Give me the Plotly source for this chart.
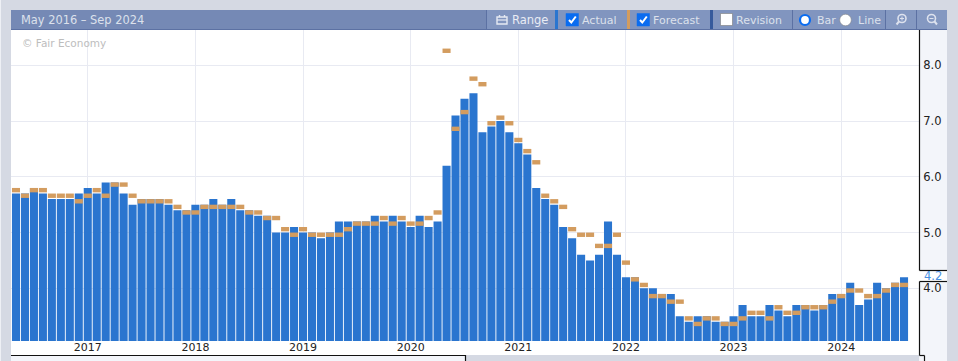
import pandas as pd
import plotly.graph_objects as go

W, H = 958, 361
FONT = "DejaVu Sans"

months = [p.strftime("%b %Y") for p in pd.period_range("2016-05", periods=100, freq="M")]
actual = [5.7,5.7,5.8,5.7,5.6,5.6,5.6,5.7,5.8,5.7,
          5.9,5.9,5.7,5.5,5.6,5.6,5.6,5.5,5.4,5.4,
          5.5,5.5,5.6,5.5,5.6,5.4,5.4,5.3,5.3,5.0,
          5.0,5.1,5.0,5.0,4.9,5.0,5.2,5.2,5.2,5.2,
          5.3,5.2,5.3,5.2,5.1,5.3,5.1,5.2,6.2,7.1,
          7.4,7.5,6.8,6.9,7.0,6.8,6.6,6.4,5.8,5.6,
          5.5,5.1,4.9,4.6,4.5,4.6,5.2,4.6,4.2,4.2,
          4.0,4.0,3.9,3.9,3.5,3.4,3.5,3.5,3.4,3.4,
          3.5,3.7,3.5,3.5,3.7,3.6,3.5,3.7,3.7,3.6,
          3.7,3.9,3.9,4.1,3.7,3.8,4.1,4.0,4.1,4.2]
forecast = [5.8,5.7,5.8,5.8,5.7,5.7,5.7,5.6,5.7,5.8,
            5.7,5.9,5.9,5.7,5.6,5.6,5.6,5.6,5.5,5.4,
            5.4,5.5,5.5,5.5,5.5,5.5,5.4,5.4,5.3,5.3,
            5.1,5.0,5.1,5.0,5.0,5.0,5.0,5.1,5.2,5.2,
            5.2,5.3,5.2,5.3,5.2,5.2,5.3,5.4,8.3,6.9,
            7.2,7.8,7.7,7.0,7.1,7.0,6.7,6.5,6.3,5.7,
            5.6,5.5,5.1,5.0,5.0,4.8,4.8,5.0,4.5,4.2,
            4.1,3.9,3.9,3.8,3.8,3.5,3.4,3.5,3.5,3.4,
            3.4,3.5,3.6,3.6,3.5,3.7,3.6,3.6,3.7,3.7,
            3.7,3.8,3.9,4.0,4.0,3.9,3.9,4.0,4.1,4.1]
year_ticks = ["Jan 2017","Jan 2018","Jan 2019","Jan 2020","Jan 2021","Jan 2022","Jan 2023","Jan 2024"]
year_labels = ["2017","2018","2019","2020","2021","2022","2023","2024"]
y_ticks = [4, 5, 6, 7, 8]
y_labels = ["4.0", "5.0", "6.0", "7.0", "8.0"]
latest_label = "4.2"

BAR_BLUE = "#2A75CF"
ORANGE = "#D39C5F"
PAGE = "#D5D9E3"
PANEL = "#F3F5FA"
HEAD = "#7589B5"
HEAD_LIGHT = "#8195BF"
HEAD_EDGE = "#5C71A3"
HEAD_TEXT = "#DCE1EC"
GRID = "#E8EAF2"

THICK = 4.4 / 55.75  # forecast dash height in axis units

def px(x): return x / W
def py(y): return 1 - y / H

shapes, notes = [], []

def rect(x0, y0, x1, y1, fill, layer="above", line=None, lw=0):
    shapes.append(dict(type="rect", xref="paper", yref="paper", layer=layer,
                       x0=px(x0), x1=px(x1), y0=py(y0), y1=py(y1), fillcolor=fill,
                       line=dict(width=lw, color=line or fill)))

def seg(x0, y0, x1, y1, color, lw=1, layer="above"):
    shapes.append(dict(type="line", xref="paper", yref="paper", layer=layer,
                       x0=px(x0), x1=px(x1), y0=py(y0), y1=py(y1),
                       line=dict(width=lw, color=color)))

def circ(cx, cy, r, fill, line, lw=1):
    shapes.append(dict(type="circle", xref="paper", yref="paper", layer="above",
                       x0=px(cx - r), x1=px(cx + r), y0=py(cy - r), y1=py(cy + r),
                       fillcolor=fill, line=dict(width=lw, color=line)))

def poly(points, color, lw=2):
    d = "M " + " L ".join(f"{px(a):.5f} {py(b):.5f}" for a, b in points)
    shapes.append(dict(type="path", xref="paper", yref="paper", layer="above", path=d,
                       line=dict(width=lw, color=color)))

def text(x, y, s, size=11, color=HEAD_TEXT, anchor="left"):
    notes.append(dict(xref="paper", yref="paper", x=px(x), y=py(y), text=s, showarrow=False,
                      xanchor=anchor, yanchor="middle", borderpad=0,
                      font=dict(family=FONT, size=size, color=color)))

# frame panels
rect(0, 0, 1, H, "#EEF0F5", "below")
rect(11, 341, 919, 355, "#FFFFFF", "below")
rect(11, 355, 465, H, PANEL, "below")
rect(919, 30, 947, H, PANEL, "below")

seg(11, 355.5, 465.5, 355.5, "#111111", 1.2)
seg(465.5, 355, 465.5, H, "#111111", 1.2)
seg(919.5, 30, 919.5, 270.5, "#111111", 1.2)
rect(905, 271, 947, 281, "#FFFFFF", "below")
seg(919.5, 270.5, 947, 270.5, "#111111", 1.2)
seg(919.5, 281.5, 947, 281.5, "#111111", 1.2)
seg(919.5, 281.5, 919.5, 355.5, "#111111", 1.2)
seg(919.5, 355.5, 924.5, 355.5, "#111111", 1.2)
seg(924.5, 355.5, 924.5, H, "#111111", 1.2)
text(933, 275.5, latest_label, 11.5, "#4A90E2", "center")

# header bar
rect(11, 10, 947, 29, HEAD)
rect(11, 29, 947, 30, HEAD_EDGE)
rect(487, 10, 947, 29, HEAD_LIGHT)
rect(886, 10, 916, 29, "#8498C1")
rect(917, 10, 947, 29, "#8498C1")
text(19.5, 20, "May 2016 – Sep 2024", 11.4, "#DCE1EC")
seg(486.5, 10, 486.5, 29, HEAD_EDGE)
seg(885.5, 10, 885.5, 29, HEAD_EDGE)
seg(916.5, 10, 916.5, 29, HEAD_EDGE)
seg(792.5, 10, 792.5, 29, HEAD_EDGE)
rect(555, 10, 558, 29, BAR_BLUE)
rect(627, 10, 630, 29, ORANGE)
rect(710, 10, 713, 29, "#365A9C")

# Range icon
rect(497, 17, 507, 24, HEAD_LIGHT, line="#E6EAF3", lw=1.4)
seg(497, 20, 507, 20, "#E6EAF3", 1.2)
seg(499.5, 15, 499.5, 17, "#E6EAF3", 1.4)
seg(504.5, 15, 504.5, 17, "#E6EAF3", 1.4)
text(510.5, 20, "Range", 11.5, "#E9ECF4")

# check boxes
for bx, label, tx in [(566, "Actual", 581), (637, "Forecast", 652)]:
    rect(bx, 13.5, bx + 12.5, 26, "#0A6CF0", line="#0A6CF0", lw=0.5)
    poly([(bx + 3, 20), (bx + 5.3, 22.5), (bx + 9.8, 16.5)], "#FFFFFF", 2)
    text(tx, 20, label)
rect(720.5, 13.5, 732.5, 25.5, "#FFFFFF", line="#7A7A7A", lw=0.6)
text(735, 20, "Revision")

# radios
circ(805, 20, 5, "#FFFFFF", "#0A6CF0", 2.2)
text(816, 20, "Bar")
circ(845.5, 20, 5.8, "#FFFFFF", "#8A8A8A", 0.6)
text(857, 20, "Line")

# zoom icons
circ(902, 18.5, 4, "rgba(0,0,0,0)", "#DDE2EE", 1.6)
seg(899, 21.5, 896.5, 24.5, "#DDE2EE", 2)
seg(900, 18.5, 904, 18.5, "#DDE2EE", 1)
seg(902, 16.5, 902, 20.5, "#DDE2EE", 1)
circ(931.5, 18.5, 4, "rgba(0,0,0,0)", "#DDE2EE", 1.6)
seg(934.5, 21.5, 937, 24.5, "#DDE2EE", 2)
seg(929.5, 18.5, 933.5, 18.5, "#DDE2EE", 1)

text(21, 43, "© Fair Economy", 10.5, "#BDBDBD")

fig = go.Figure()
fig.add_bar(x=months, y=actual, width=0.9, marker=dict(color=BAR_BLUE, line_width=0), name="Actual")
fig.add_bar(x=months, y=[THICK] * len(forecast), base=[v - THICK for v in forecast], width=0.9,
            marker=dict(color=ORANGE, line_width=0), name="Forecast")

fig.update_layout(
    width=W, height=H, margin=dict(l=0, r=0, t=0, b=0, pad=0), autosize=False,
    paper_bgcolor=PAGE, plot_bgcolor="#FFFFFF", barmode="overlay", showlegend=False,
    font=dict(family=FONT), shapes=shapes, annotations=notes,
    xaxis=dict(type="category", categoryorder="array", categoryarray=months,
               domain=[px(11), px(919)], range=[-0.557, 100.67],
               tickmode="array", tickvals=year_ticks, ticktext=year_labels, tickangle=0,
               showgrid=True, gridcolor=GRID, gridwidth=1, zeroline=False, showline=False,
               ticks="", ticklabelstandoff=-2,
               tickfont=dict(family=FONT, size=11, color="#222222")),
    yaxis=dict(side="right", domain=[py(341), py(30)], range=[3.055, 8.633],
               tickmode="array", tickvals=y_ticks, ticktext=y_labels,
               showgrid=True, gridcolor=GRID, gridwidth=1, zeroline=False, showline=False,
               ticks="outside", ticklen=1, tickcolor="rgba(0,0,0,0)",
               tickfont=dict(family=FONT, size=11.5, color="#222222")),
)
fig.write_html("out.html", config=dict(displayModeBar=False),
               post_script="document.body.style.margin='0';document.body.style.overflow='hidden';")
